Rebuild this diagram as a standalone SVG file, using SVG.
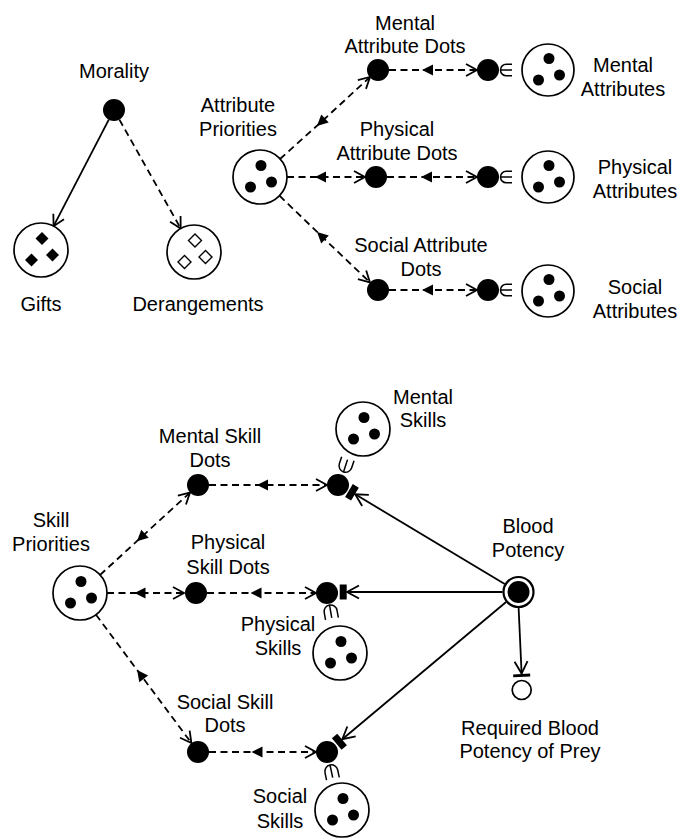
<svg xmlns="http://www.w3.org/2000/svg" width="689" height="838" viewBox="0 0 689 838">
<style>
.lbl{font-family:"Liberation Sans",Arial,Helvetica,sans-serif;font-size:20px;text-anchor:middle;fill:#000}
.set{fill:#fff;stroke:#000;stroke-width:1.7}
.dot{fill:#000}
.hd{fill:#fff;stroke:#000;stroke-width:1.4}
.dash{fill:none;stroke:#000;stroke-width:1.8;stroke-dasharray:7 4.5;marker-mid:url(#tri);marker-end:url(#vee)}
.dash2{fill:none;stroke:#000;stroke-width:1.8;stroke-dasharray:7 4.5;marker-end:url(#vee)}
.solid{fill:none;stroke:#000;stroke-width:1.8}
.elem{fill:none;stroke:#000;stroke-width:1.5}
</style>
<defs>
<marker id="vee" markerUnits="userSpaceOnUse" orient="auto" markerWidth="30" markerHeight="30" viewBox="-15 -15 30 30" refX="0" refY="0" overflow="visible">
<path d="M-11,-6 L0,0 L-11,6" fill="none" stroke="#000" stroke-width="1.8"/>
</marker>
<marker id="tri" markerUnits="userSpaceOnUse" orient="auto" markerWidth="30" markerHeight="30" viewBox="-15 -15 30 30" refX="0" refY="0" overflow="visible">
<path d="M0,-5.5 L0,5.5 L-11,0 Z" fill="#000"/>
</marker>
<marker id="req" markerUnits="userSpaceOnUse" orient="auto" markerWidth="30" markerHeight="30" viewBox="-15 -15 30 30" refX="0" refY="0" overflow="visible">
<path d="M-12,-6.5 L0,0 L-12,6.5" fill="none" stroke="#000" stroke-width="1.8"/>
<rect x="0.3" y="-7.5" width="7" height="15" fill="#000"/>
</marker>
<marker id="reqThin" markerUnits="userSpaceOnUse" orient="auto" markerWidth="30" markerHeight="30" viewBox="-15 -15 30 30" refX="0" refY="0" overflow="visible">
<path d="M-12,-6.5 L0,0 L-12,6.5" fill="none" stroke="#000" stroke-width="1.8"/>
<rect x="0.5" y="-8.5" width="2.8" height="17" fill="#000"/>
</marker>
<path id="elem" class="elem" d="M11.5,-5.8 H5.8 A5.8,5.8 0 0 0 5.8,5.8 H11.5 M0,0 H11.5"/>
<path id="elem2" class="elem" d="M14,-6.5 H6.5 A6.5,6.5 0 0 0 6.5,6.5 H14 M0,0 H13"/>
<g id="three">
<circle class="dot" cx="1" cy="-11.5" r="5.5"/>
<circle class="dot" cx="-9.5" cy="10" r="5.5"/>
<circle class="dot" cx="11.5" cy="5" r="5.5"/>
</g>
<path id="dia" d="M0,-6.5 L6.5,0 L0,6.5 L-6.5,0 Z"/>
</defs>

<g id="connectors">
<path class="solid" d="M108.8,119.7 L53.6,226.2" marker-end="url(#vee)"/>
<path class="dash2" d="M119.4,119.6 L180.7,228.5"/>
<path class="dash" d="M280,159 L325,118.5 L370,77"/>
<path class="dash" d="M287,177 L326,177 L365,177"/>
<path class="dash" d="M279.5,195.7 L325,239.5 L370,282.4"/>
<path class="dash" d="M389,70 L433,70 L477,70"/>
<path class="dash" d="M387,177 L432,177 L477,177"/>
<path class="dash" d="M389,290 L433,290 L477,290"/>
<use href="#elem" transform="translate(500.5,70)"/>
<use href="#elem" transform="translate(500.5,177)"/>
<use href="#elem" transform="translate(500.5,290)"/>

<path class="dash" d="M100,575 L145,533.8 L190,492.6"/>
<path class="dash" d="M107,593 L145.5,593 L184,593"/>
<path class="dash" d="M96,614.7 L143.7,678.9 L191.4,743"/>
<path class="dash" d="M209,485 L268,485 L327,485"/>
<path class="dash" d="M207,593 L261.5,593 L316,593"/>
<path class="dash" d="M209,752 L262.5,752 L316,752"/>

<path class="solid" d="M504.7,584 L355.2,494.3" marker-end="url(#req)"/>
<path class="solid" d="M502.5,592 L347,592" marker-end="url(#req)"/>
<path class="solid" d="M506.1,602 L342.3,739.2" marker-end="url(#req)"/>
<path class="solid" d="M518.6,607.5 L521.6,673.5" marker-end="url(#reqThin)"/>

<use href="#elem2" transform="translate(343.5,472) rotate(-72)"/>
<use href="#elem2" transform="translate(329.5,605) rotate(80)"/>
<use href="#elem2" transform="translate(330,765) rotate(78)"/>
</g>

<g id="morality">
<circle class="dot" cx="114" cy="110" r="11"/>
<text class="lbl" x="114" y="78">Morality</text>
</g>
<g id="gifts">
<circle class="set" cx="41" cy="250" r="27"/>
<use href="#dia" transform="translate(42,238.5)"/>
<use href="#dia" transform="translate(31.5,260)"/>
<use href="#dia" transform="translate(52.5,255)"/>
<text class="lbl" x="41" y="311">Gifts</text>
</g>
<g id="derangements">
<circle class="set" cx="194" cy="252" r="27"/>
<use href="#dia" class="hd" transform="translate(195,240.5)"/>
<use href="#dia" class="hd" transform="translate(184.5,262)"/>
<use href="#dia" class="hd" transform="translate(205.5,257)"/>
<text class="lbl" x="198" y="311">Derangements</text>
</g>

<g id="attribute-priorities">
<circle class="set" cx="260" cy="177" r="27"/>
<use href="#three" transform="translate(260,177)"/>
<text class="lbl" x="238" y="112">Attribute</text>
<text class="lbl" x="238" y="136">Priorities</text>
</g>
<g id="mental-attribute-dots">
<circle class="dot" cx="378" cy="70" r="11"/>
<text class="lbl" x="405" y="30">Mental</text>
<text class="lbl" x="405" y="53">Attribute Dots</text>
</g>
<g id="physical-attribute-dots">
<circle class="dot" cx="376" cy="177" r="11"/>
<text class="lbl" x="397" y="136">Physical</text>
<text class="lbl" x="397" y="160">Attribute Dots</text>
</g>
<g id="social-attribute-dots">
<circle class="dot" cx="378" cy="290" r="11"/>
<text class="lbl" x="421" y="252">Social Attribute</text>
<text class="lbl" x="421" y="276">Dots</text>
</g>
<g id="mental-attribute">
<circle class="dot" cx="488" cy="70" r="11"/>
</g>
<g id="physical-attribute">
<circle class="dot" cx="488" cy="177" r="11"/>
</g>
<g id="social-attribute">
<circle class="dot" cx="488" cy="290" r="11"/>
</g>
<g id="mental-attributes">
<circle class="set" cx="548" cy="70" r="26"/>
<use href="#three" transform="translate(548,70)"/>
<text class="lbl" x="623" y="72">Mental</text>
<text class="lbl" x="623" y="96">Attributes</text>
</g>
<g id="physical-attributes">
<circle class="set" cx="548" cy="177" r="26"/>
<use href="#three" transform="translate(548,177)"/>
<text class="lbl" x="635" y="174">Physical</text>
<text class="lbl" x="635" y="198">Attributes</text>
</g>
<g id="social-attributes">
<circle class="set" cx="548" cy="291" r="26"/>
<use href="#three" transform="translate(548,291)"/>
<text class="lbl" x="635" y="294">Social</text>
<text class="lbl" x="635" y="318">Attributes</text>
</g>

<g id="skill-priorities">
<circle class="set" cx="80" cy="593" r="27"/>
<use href="#three" transform="translate(80,593)"/>
<text class="lbl" x="51" y="527">Skill</text>
<text class="lbl" x="51" y="551">Priorities</text>
</g>
<g id="mental-skill-dots">
<circle class="dot" cx="198" cy="485" r="11"/>
<text class="lbl" x="210" y="443">Mental Skill</text>
<text class="lbl" x="210" y="467">Dots</text>
</g>
<g id="physical-skill-dots">
<circle class="dot" cx="196" cy="593" r="11"/>
<text class="lbl" x="228" y="549">Physical</text>
<text class="lbl" x="228" y="574">Skill Dots</text>
</g>
<g id="social-skill-dots">
<circle class="dot" cx="198" cy="752" r="11"/>
<text class="lbl" x="225" y="709">Social Skill</text>
<text class="lbl" x="225" y="732">Dots</text>
</g>
<g id="mental-skill">
<circle class="dot" cx="338" cy="485" r="11"/>
</g>
<g id="physical-skill">
<circle class="dot" cx="327" cy="593" r="11"/>
</g>
<g id="social-skill">
<circle class="dot" cx="327" cy="752" r="11"/>
</g>
<g id="mental-skills">
<circle class="set" cx="363" cy="429" r="27"/>
<use href="#three" transform="translate(363,429)"/>
<text class="lbl" x="423" y="404">Mental</text>
<text class="lbl" x="423" y="427">Skills</text>
</g>
<g id="physical-skills">
<circle class="set" cx="340" cy="653" r="27"/>
<use href="#three" transform="translate(340,653)"/>
<text class="lbl" x="278" y="631">Physical</text>
<text class="lbl" x="278" y="655">Skills</text>
</g>
<g id="social-skills">
<circle class="set" cx="342" cy="810" r="27"/>
<use href="#three" transform="translate(342,810)"/>
<text class="lbl" x="280" y="803">Social</text>
<text class="lbl" x="280" y="828">Skills</text>
</g>
<g id="blood-potency">
<circle cx="518.5" cy="592" r="15" fill="#fff" stroke="#000" stroke-width="2.2"/>
<circle class="dot" cx="518.5" cy="592" r="11"/>
<text class="lbl" x="528" y="533">Blood</text>
<text class="lbl" x="528" y="557">Potency</text>
</g>
<g id="required-blood-potency">
<circle cx="521.7" cy="690" r="9.5" fill="#fff" stroke="#000" stroke-width="1.7"/>
<text class="lbl" x="530" y="735">Required Blood</text>
<text class="lbl" x="530" y="758">Potency of Prey</text>
</g>
</svg>
